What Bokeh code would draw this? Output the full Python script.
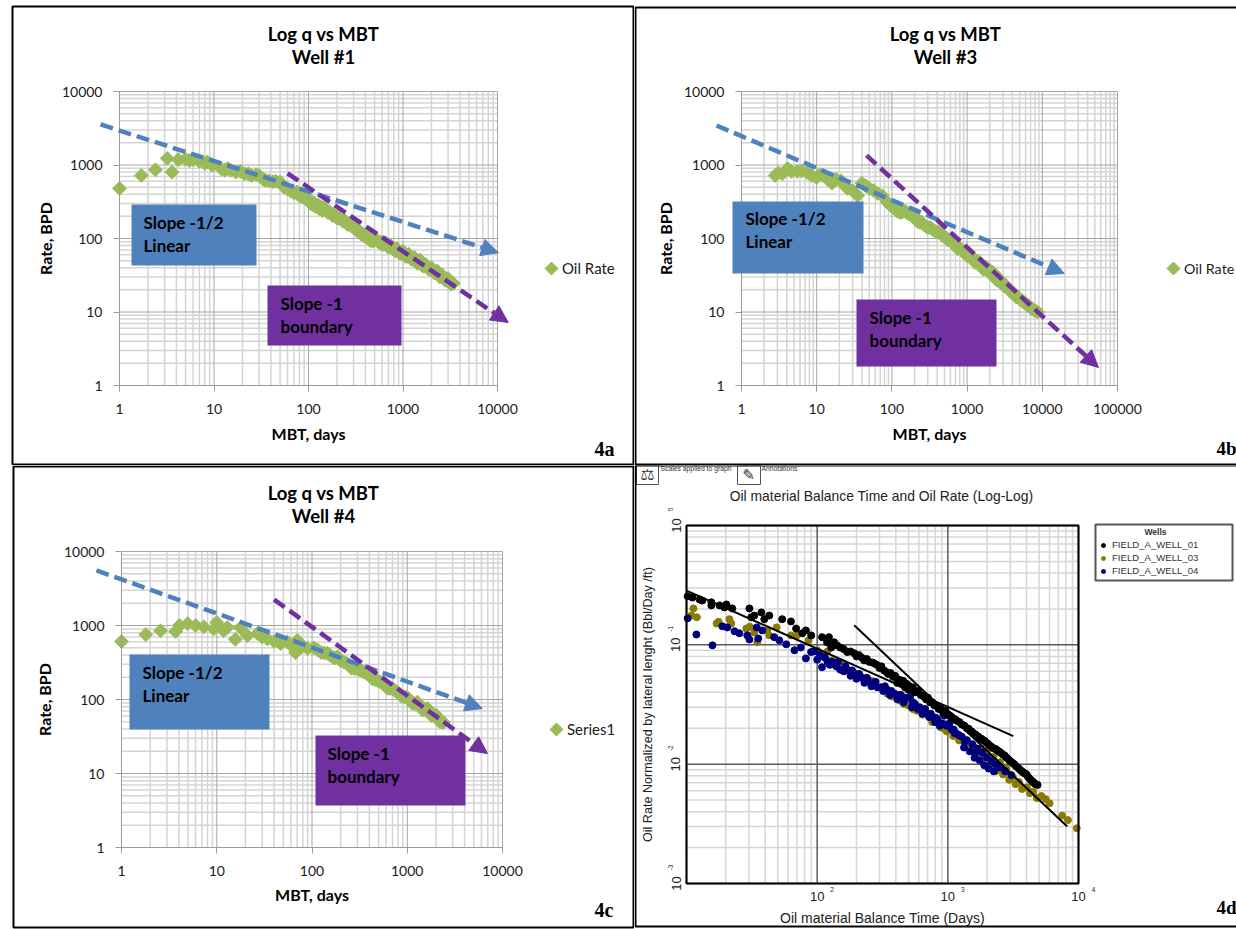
from math import pi, log10
from bokeh.embed import file_html
from bokeh.resources import INLINE
from bokeh.plotting import figure
from bokeh.layouts import column, row
from bokeh.models import (Arrow, BoxAnnotation, FixedTicker, Label, Legend, LegendItem,
                          NormalHead, NumeralTickFormatter, PolyAnnotation, Range1d)

# ---------- Well #1 (panel 4a)
a_x = [1, 1.7, 2.4, 3.2, 3.6, 4.2, 5, 5.5, 6, 7, 8, 8.5, 9.5, 12, 13, 14, 15, 17, 19, 21, 23, 25, 28, 30, 33, 35, 38, 42, 45, 50,
       55, 60, 65, 70, 75, 80, 85, 90, 95, 100, 105, 110, 115, 120, 125, 130, 135, 140, 150, 160, 170, 180, 190, 200, 215, 230,
       245, 260, 280, 300, 320, 340, 360, 390, 420, 450, 480, 520, 560, 600, 650, 700, 750, 800, 860, 920, 1000, 1070, 1150,
       1230, 1320, 1420, 1520, 1630, 1750, 1880, 2000, 2150, 2300, 2450, 2600, 2800, 3000, 3200, 3400,
       108, 128, 145, 165, 185, 208, 238, 270, 310, 350, 375, 405, 435, 465, 500, 540, 580, 625, 675, 725, 775, 830, 890, 960, 1035,
       1110, 1190, 1275, 1370, 1470, 1575, 1690, 1815, 1940, 2075, 2225, 2375, 2525, 2700, 2900, 3100, 3300]
a_y = [480, 720, 860, 1230, 800, 1180, 1200, 1150, 1180, 1120, 1050, 1100, 1000, 880, 850, 900, 850, 800, 820, 760, 760, 720, 740, 720, 640, 620, 610, 590, 600, 590,
       500, 470, 440, 420, 430, 380, 370, 360, 350, 330, 300, 290, 305, 270, 285, 255, 270, 240, 250, 225, 225, 205, 205, 190, 185, 172,
       168, 155, 150, 140, 130, 125, 115, 108, 102, 94, 92, 97, 88, 83, 88, 76, 79, 71, 73, 63, 67, 57, 61,
       52, 55, 46, 51, 42, 44, 38, 40, 34, 36, 30, 32, 27, 28.5, 24, 24.5,
       315, 280, 262, 232, 215, 192, 178, 160, 142, 123, 116, 110, 102, 98, 100, 92, 90, 84, 81, 77, 75, 68, 69, 63, 62,
       57, 57, 52, 50, 48, 45, 43, 41, 38, 37, 34, 33, 31, 29.5, 27.5, 26, 25]
a_blue_x = [0.63, 10240]
a_blue_y = [3560, 64]
a_purple_x = [60, 13000]
a_purple_y = [770, 7.2]

# ---------- Well #3 (panel 4b)
b_x = [2.8, 3.1, 3.5, 4.1, 4.6, 5.5, 6.3, 7.5, 8.5, 10, 11, 12, 14, 16, 18, 21, 23, 25.6, 30, 35, 40, 45, 50, 57, 65, 75, 87, 100, 115,
       130, 150, 170, 195, 220, 250, 300, 340, 390, 440, 500, 560, 660, 750, 850, 1000, 1130, 1280, 1450, 1650, 1850, 2050, 2250,
       2500, 2800, 3100, 3400, 3750, 4100, 4500, 5000, 5650, 6300, 7000, 7800, 8700,
       108, 122, 140, 160, 182, 208, 235, 270, 320, 365, 415, 470, 530, 610, 700, 800, 925, 1060, 1200, 1360, 1550, 1750, 1950, 2150,
       2370, 2650, 2950, 3250, 3570, 3920, 4300, 4750, 5300, 5950, 6650, 7400, 8200]
b_y = [720, 780, 760, 895, 820, 815, 830, 790, 720, 675, 740, 720, 640, 565, 640, 610, 540, 480, 450, 385, 565, 520, 480, 450, 410, 380, 310, 270, 240,
       225, 235, 215, 205, 170, 165, 140, 135, 122, 118, 105, 95, 86, 72, 70, 58, 56, 47, 47, 38, 39, 33, 34,
       27, 27, 22.5, 22, 19, 18, 16, 15, 13.5, 12.5, 11.5, 10.5, 10,
       262, 235, 232, 222, 208, 188, 165, 152, 142, 128, 122, 110, 102, 92, 82, 74, 66, 60, 54, 50, 45, 41, 38, 35,
       31, 28, 25, 23, 20.5, 19, 17.5, 16, 14.5, 13.2, 12.2, 11, 10.3]
b_blue_x = [0.465, 19600]
b_blue_y = [3450, 33.4]
b_purple_x = [46, 55800]
b_purple_y = [1350, 1.76]

# ---------- Well #4 (panel 4c)
c_x = [1, 1.8, 2.57, 3.7, 4.06, 4.95, 6, 7.3, 9.3, 10, 11.8, 12.9, 15.7, 17.7, 21, 26.8, 30, 34, 40, 46.7, 55, 62, 67, 70, 80, 90,
       105, 125, 145, 168, 185, 200, 230, 260, 300, 340, 380, 430, 490, 560, 620, 700, 790, 880, 1000, 1130, 1280, 1450, 1630,
       1800, 2000, 2200, 2400,
       115, 135, 155, 175, 215, 245, 280, 320, 360, 405, 460, 525, 590, 660, 745, 835, 940, 1060, 1200, 1360, 1540, 1710, 1900, 2100, 2300]
c_y = [610, 755, 850, 830, 1000, 1060, 1000, 960, 900, 1100, 850, 940, 650, 930, 730, 780, 700, 660, 610, 570, 600, 520, 430, 630, 530, 490,
       500, 430, 420, 370, 380, 335, 310, 265, 260, 240, 225, 190, 180, 165, 142, 140, 125, 110, 107, 88, 92, 72, 76,
       60, 62, 50, 49,
       465, 425, 395, 365, 320, 290, 262, 250, 232, 208, 185, 172, 152, 141, 132, 118, 108, 98, 88, 82, 74, 68, 60, 56, 50]
c_blue_x = [0.546, 6150]
c_blue_y = [5550, 75.5]
c_purple_x = [40, 6960]
c_purple_y = [2240, 18.6]

# ---------- Field comparison (panel 4d)
d1_x = [10.2, 11.1, 12.6, 13.2, 15.5, 15.5, 17.9, 20.2, 19.5, 22.4, 30.3, 31.3, 37.4, 33, 43, 39.4, 54, 63, 69, 82, 77, 90, 109, 123, 119,
        135, 142, 128, 170, 192, 209, 229, 250, 273, 300, 325, 350, 380, 410, 440, 470, 500, 520, 560, 620, 680, 730, 790, 850, 920,
        1030, 1100, 1180, 1280, 1400, 1490, 1570, 1670, 1760, 1860, 1960, 2100, 2250, 2400, 2510, 2650, 2800, 2950, 3140, 3300, 3500,
        3700, 3850, 4030, 4200, 4400, 4600, 4860,
        150, 160, 180, 200, 220, 240, 265, 285, 310, 340, 365, 395, 425, 455, 485, 510, 540, 590, 650, 705, 760, 820, 885, 960, 990,
        1065, 1140, 1230, 1340, 1445, 1530, 1620, 1715, 1810, 1910, 2030, 2175, 2325, 2455, 2580, 2725, 2875, 3045, 3220, 3400, 3600,
        3775, 3940, 4115, 4300, 4500, 4730]
d1_y = [.255, .249, .240, .235, .227, .214, .214, .218, .206, .202, .202, .170, .187, .176, .176, .164, .164, .157, .137, .132, .125, .120, .116, .116, .105,
        .105, .099, .095, .087, .085, .082, .074, .072, .070, .064, .061, .057, .054, .048, .047, .044, .042, .042, .040, .038, .035, .033, .031, .029, .027,
        .0257, .024, .023, .0215, .020, .019, .018, .0172, .0165, .0159, .0152, .0143, .0135, .013, .0126, .012, .0114, .0108, .0102, .0097, .0092,
        .0087, .0084, .0081, .0076, .0072, .0069, .0067,
        .095, .092, .088, .080, .078, .076, .071, .068, .066, .059, .058, .055, .051, .050, .047, .045, .044, .041, .037, .036, .033, .031, .029, .028, .0265,
        .025, .0238, .0225, .021, .0198, .0187, .0178, .0170, .0163, .0157, .0148, .0139, .0134, .0128, .0123, .0118, .0111, .0105, .0100, .0094, .0089,
        .0085, .0083, .0078, .0074, .0071, .0068]
d3_x = [11.3, 10.9, 12, 17, 17.6, 21.3, 22, 28.7, 30.5, 33, 34.8, 41.5, 43, 49, 63, 70, 86, 100, 120, 152, 155, 180, 220, 260, 309, 344, 390, 430, 500, 580,
        700, 820, 920, 1030, 1150, 1280, 1420, 1570, 1770, 1990, 2240, 2510, 2800, 3140, 3500, 4030, 4500, 5200, 5600, 6000, 7500, 8300, 9700,
        130, 170, 200, 240, 280, 330, 370, 460, 540, 640, 760, 870, 980, 1100, 1220, 1350, 1500, 1650, 1860, 2100, 2370, 2650, 2950, 3300, 3700, 4250, 4800]
d3_y = [.202, .176, .170, .151, .156, .164, .151, .137, .142, .127, .105, .132, .120, .140, .120, .120, .109, .090, .088, .071, .061, .060, .053, .050, .044, .039, .038, .034, .031, .028,
        .026, .0235, .020, .0195, .018, .0165, .015, .0142, .0135, .013, .0115, .0104, .0092, .0078, .0071, .0064, .0059, .0054, .0051, .0047, .0037, .0034, .0029,
        .074, .062, .057, .050, .046, .041, .037, .032, .029, .026, .0225, .0205, .0188, .0172, .0158, .0145, .0130, .0122, .0110, .0098, .0088, .0082, .0074, .0068, .0062, .0057, .0052]
d4_x = [10.2, 11.9, 15.8, 18.8, 20.5, 23.3, 25.4, 29.2, 30.3, 34.5, 35.4, 38, 46.9, 51.3, 58, 67, 75, 82, 89.9, 100, 109, 113, 125, 135, 150, 170, 190, 220, 245,
        273, 305, 344, 390, 438, 470, 513, 560, 610, 650, 695, 760, 830, 900, 980, 1070, 1170, 1280, 1400, 1540, 1680, 1830, 1990, 2150, 2320, 2510, 2750, 3060,
        95, 105, 115, 120, 130, 140, 145, 160, 165, 180, 185, 200, 210, 230, 240, 260, 280, 290, 320, 330, 360, 370, 410, 420, 460, 490, 530, 540, 590, 640, 670,
        720, 740, 800, 810, 870, 940, 960, 1030, 1110, 1130, 1220, 1330, 1350, 1470, 1600, 1620, 1750, 1900, 2050, 2250]
d4_y = [.167, .122, .099, .143, .140, .130, .125, .120, .111, .140, .113, .132, .116, .109, .101, .090, .095, .077, .087, .075, .065, .079, .068, .070, .062, .061, .058, .053, .050,
        .048, .044, .042, .039, .038, .036, .0364, .032, .030, .028, .0267, .025, .024, .022, .021, .0195, .018, .017, .0159, .0147, .0135, .0125, .0114, .0106, .010, .0094, .0087, .0081,
        .088, .082, .078, .072, .072, .066, .072, .060, .066, .055, .061, .052, .057, .048, .053, .045, .049, .044, .041, .045, .038, .041, .035, .038, .033, .036, .030, .033, .029, .0265, .029,
        .0248, .0265, .0225, .0245, .021, .0255, .0215, .022, .0195, .0182, .0175, .0138, .0155, .0128, .0113, .0125, .0108, .0098, .0092, .0087]
d_line1_x = [10, 3170]
d_line1_y = [.285, .0172]
d_line2_x = [192, 8200]
d_line2_y = [.146, .0030]
d_series = ["FIELD_A_WELL_01", "FIELD_A_WELL_03", "FIELD_A_WELL_04"]

# ---------- styles / tick labels
GREEN, BLUE, PURPLE = "#9BBB59", "#4F81BD", "#7030A0"
OLIVE, NAVY = "#8B7A00", "#00007F"
UI = "Lato"
X_DECADES_3 = [1, 10, 100, 1000, 10000]
X_DECADES_4 = [1, 10, 100, 1000, 10000, 100000]
Y_DECADES = [1, 10, 100, 1000, 10000]
D_X_DECADES = [10, 100, 1000, 10000]
D_Y_DECADES = [0.001, 0.01, 0.1, 1]
D_X_EXP = ["2", "3", "4"]
D_Y_EXP = ["-3", "-2", "-1", "0"]


def minors(decades):
    return [d * k for d in decades[:-1] for k in range(2, 10)]


class Panel:
    """A figure whose frame fills its whole canvas: the plot area sits at fl..fr, ft..fb in page pixels,
    so that arrows and text boxes may run past the axes without being clipped."""
    def __init__(self, ox, oy, w, h, fl, fr, ft, fb, xd, yd):
        self.ox, self.oy, self.xd, self.yd = ox, oy, xd, yd
        xpd = (fr - fl) / (log10(xd[-1]) - log10(xd[0]))
        ypd = (fb - ft) / (log10(yd[-1]) - log10(yd[0]))
        xr = (10 ** (log10(xd[0]) + (ox - fl) / xpd), 10 ** (log10(xd[0]) + (ox + w - fl) / xpd))
        yr = (10 ** (log10(yd[0]) + (fb - oy - h) / ypd), 10 ** (log10(yd[0]) + (fb - oy) / ypd))
        p = figure(width=w, height=h, x_axis_type="log", y_axis_type="log",
                   x_range=Range1d(*xr), y_range=Range1d(*yr), output_backend="svg",
                   toolbar_location=None, min_border=0)
        p.outline_line_color = None
        p.background_fill_color = "white"
        p.border_fill_color = "white"
        p.xgrid.visible = False
        p.ygrid.visible = False
        for ax, loc, bnd in ((p.xaxis[0], yd[0], (xd[0], xd[-1])), (p.yaxis[0], xd[0], (yd[0], yd[-1]))):
            ax.fixed_location = loc
            ax.bounds = bnd
        self.p = p

    def grid(self, xt, yt, color, width):
        ylo, yhi = self.yd[0], self.yd[-1]
        xlo, xhi = self.xd[0], self.xd[-1]
        self.p.segment(xt, [ylo] * len(xt), xt, [yhi] * len(xt), line_color=color, line_width=width)
        self.p.segment([xlo] * len(yt), yt, [xhi] * len(yt), yt, line_color=color, line_width=width)

    def box(self, l, t, r, b, **kw):
        self.p.add_layout(BoxAnnotation(left=l - self.ox, right=r - self.ox, top=t - self.oy, bottom=b - self.oy,
                                        left_units="canvas", right_units="canvas",
                                        top_units="canvas", bottom_units="canvas", **kw))

    def text(self, x, y, s, size, font=UI, style="normal", align="left", color="black", angle=0):
        self.p.add_layout(Label(x=x - self.ox, y=y - self.oy, x_units="canvas", y_units="canvas",
                                text=s, text_font=font, text_font_size=f"{size}px", text_font_style=style,
                                text_align=align, text_baseline="middle", text_color=color, angle=angle))

    def key(self, x, y, r, color):
        """Legend key: Excel's diamond, which is as wide as it is tall."""
        x, y = x - self.ox, y - self.oy
        self.p.add_layout(PolyAnnotation(xs=[x - r, x, x + r, x], ys=[y, y - r, y, y + r],
                                         xs_units="canvas", ys_units="canvas",
                                         fill_color=color, fill_alpha=1, line_color=color, line_alpha=1))


def arrow(p, xs, ys, color):
    p.add_layout(Arrow(end=NormalHead(size=17, fill_color=color, line_color=color),
                       x_start=xs[0], y_start=ys[0], x_end=xs[1], y_end=ys[1],
                       line_color=color, line_width=4.5, line_dash="13 6"))


def excel_panel(ox, oy, w, h, fl, fr, ft, fb, xd, xs, ys, blue, purple, title, corner, boxes, legend_name,
                legend_xy, key_xy, label_standoffs, legend_size=15):
    pn = Panel(ox, oy, w, h, fl, fr, ft, fb, xd, Y_DECADES)
    p = pn.p
    pn.grid(minors(xd), minors(Y_DECADES), "#D4D4D4", 1.5)
    pn.grid(xd, Y_DECADES, "#A6A6A6", 1)
    p.xaxis.ticker = FixedTicker(ticks=xd)
    p.yaxis.ticker = FixedTicker(ticks=Y_DECADES)
    for ax in (p.xaxis[0], p.yaxis[0]):
        ax.formatter = NumeralTickFormatter(format="0")
        ax.axis_line_color = "#9A9A9A"
        ax.major_tick_line_color = "#9A9A9A"
        ax.major_tick_in = 0
        ax.major_tick_out = 6
        ax.minor_tick_line_color = None
        ax.major_label_text_font = UI
        ax.major_label_text_font_size = "14px"
        ax.major_label_text_color = "#1a1a1a"
        ax.axis_label_text_font = UI
        ax.axis_label_text_font_size = "16px"
        ax.axis_label_text_font_style = "bold"
        ax.axis_label_text_color = "black"
    p.xaxis.axis_label = "MBT, days"
    p.yaxis.axis_label = "Rate, BPD"
    p.xaxis.major_label_standoff = 12
    p.yaxis.major_label_standoff = 11
    p.xaxis.axis_label_standoff = label_standoffs[0]
    p.yaxis.axis_label_standoff = label_standoffs[1]

    r = p.scatter(xs, ys, marker="square", angle=pi / 4, size=9.8, fill_color=GREEN, line_color=GREEN)
    arrow(p, *blue, BLUE)
    arrow(p, *purple, PURPLE)
    for (l, t, rr, b, color, tx, ty1, ty2, s1, s2) in boxes:
        pn.box(l, t, rr, b, fill_color=color, fill_alpha=1, line_alpha=0)
        pn.text(tx, ty1, s1, 17, style="bold")
        pn.text(tx, ty2, s2, 17, style="bold")
    pn.text(title[0], title[1], title[2], 18.5, style="bold", align="center")
    pn.text(title[0], title[1] + 23, title[3], 18.5, style="bold", align="center")
    pn.text(corner[0], corner[1], corner[2], corner[3], font="Liberation Serif", style="bold")
    p.add_layout(Legend(items=[LegendItem(label=legend_name, renderers=[r])], location=legend_xy,
                        background_fill_alpha=0, border_line_alpha=0, padding=0, margin=0,
                        glyph_width=14, glyph_height=14, label_standoff=4,
                        label_text_font=UI, label_text_font_size=f"{legend_size}px", label_text_color="#1a1a1a"))
    pn.key(key_xy[0], key_xy[1], 6.5, GREEN)
    return pn


A = excel_panel(0, 0, 634, 465, 119, 497, 91, 385, X_DECADES_3, a_x, a_y, (a_blue_x, a_blue_y), (a_purple_x, a_purple_y),
                (323, 33, "Log q vs MBT", "Well #1"), (594, 448, "4a", 20),
                [(131, 204, 256, 265, BLUE, 143, 222, 245, "Slope -1/2", "Linear"),
                 (267, 285, 401, 345, PURPLE, 280, 303, 326, "Slope -1", "boundary")],
                "Oil Rate", (544, 188), (551, 268), (7, 4))
A.box(12, 6, 633, 464, fill_alpha=0, line_color="black", line_alpha=1, line_width=2)

B = excel_panel(634, 0, 602, 465, 741, 1117, 91, 385, X_DECADES_4, b_x, b_y, (b_blue_x, b_blue_y), (b_purple_x, b_purple_y),
                (945, 33, "Log q vs MBT", "Well #3"), (1216, 448, "4b", 19),
                [(732, 201, 863, 273, BLUE, 745, 218, 241, "Slope -1/2", "Linear"),
                 (856, 299, 996, 366, PURPLE, 869, 317, 340, "Slope -1", "boundary")],
                "Oil Rate", (532, 188), (1173, 268), (7, 6), legend_size=14.3)
B.box(635, 7, 1240, 464, fill_alpha=0, line_color="black", line_alpha=1, line_width=2)

C = excel_panel(0, 465, 634, 464, 121, 502, 551, 847, X_DECADES_3, c_x, c_y, (c_blue_x, c_blue_y), (c_purple_x, c_purple_y),
                (323, 492, "Log q vs MBT", "Well #4"), (594, 909, "4c", 20),
                [(129, 654, 269, 729, BLUE, 142, 672, 695, "Slope -1/2", "Linear"),
                 (315, 735, 465, 805, PURPLE, 327, 753, 776, "Slope -1", "boundary")],
                "Series1", (549, 191), (556, 729), (6, 7))
C.box(13, 466, 633, 927, fill_alpha=0, line_color="black", line_alpha=1, line_width=2)

# ---------- panel 4d
D = Panel(634, 465, 602, 464, 686, 1078, 525, 883, D_X_DECADES, D_Y_DECADES)
q = D.p
D.grid(minors(D_X_DECADES), minors(D_Y_DECADES), "#D6D6D6", 1.5)
D.grid(D_X_DECADES, D_Y_DECADES, "#5A5A5A", 1.5)
q.xaxis.ticker = FixedTicker(ticks=D_X_DECADES[1:])
q.yaxis.ticker = FixedTicker(ticks=D_Y_DECADES)
for ax in (q.xaxis[0], q.yaxis[0]):
    ax.axis_line_color = None
    ax.major_tick_line_color = None
    ax.minor_tick_line_color = None
    ax.major_label_text_font = "Liberation Sans"
    ax.major_label_text_font_size = "13px"
    ax.major_label_text_color = "#222222"
    ax.axis_label_text_font = "Liberation Sans"
    ax.axis_label_text_font_style = "normal"
    ax.axis_label_text_color = "#222222"
q.xaxis.axis_label_text_font_size = "14px"
q.yaxis.axis_label_text_font_size = "12.6px"
q.xaxis.major_label_standoff = 2
q.yaxis.major_label_standoff = 0
q.xaxis.major_label_overrides = {t: "10" for t in D_X_DECADES}
q.yaxis.major_label_overrides = {t: "10" for t in D_Y_DECADES}
q.yaxis.major_label_orientation = "vertical"
q.xaxis.axis_label = "Oil material Balance Time (Days)"
q.yaxis.axis_label = "Oil Rate Normalized by lateral lenght (Bbl/Day /ft)"
q.xaxis.axis_label_standoff = 6
q.yaxis.axis_label_standoff = 14

r3 = q.scatter(d3_x, d3_y, marker="circle", size=7, fill_color=OLIVE, line_color=OLIVE)
r4 = q.scatter(d4_x, d4_y, marker="circle", size=7, fill_color=NAVY, line_color=NAVY)
r1 = q.scatter(d1_x, d1_y, marker="circle", size=7, fill_color="black", line_color="black")
q.line(d_line1_x, d_line1_y, line_color="black", line_width=2)
q.line(d_line2_x, d_line2_y, line_color="black", line_width=2)
q.add_layout(BoxAnnotation(left=D_X_DECADES[0], right=D_X_DECADES[-1], bottom=D_Y_DECADES[0], top=D_Y_DECADES[-1],
                           fill_alpha=0, line_color="black", line_alpha=1, line_width=2))

for t, e in zip(D_X_DECADES[1:], D_X_EXP):
    q.add_layout(Label(x=t, y=D_Y_DECADES[0], x_units="data", y_units="data", x_offset=15, y_offset=-6, text=e,
                       text_font="Liberation Sans", text_font_size="6.5px", text_align="center",
                       text_baseline="middle", text_color="#222222"))
for t, e in zip(D_Y_DECADES, D_Y_EXP):
    q.add_layout(Label(x=D_X_DECADES[0], y=t, x_units="data", y_units="data", x_offset=-16, y_offset=16, text=e, angle=pi / 2,
                       text_font="Liberation Sans", text_font_size="6.5px", text_align="center",
                       text_baseline="middle", text_color="#222222"))

D.text(881, 495, "Oil material Balance Time and Oil Rate (Log-Log)", 13.9, font="Liberation Sans", align="center", color="#222222")
D.text(1216, 907, "4d", 19, font="Liberation Serif", style="bold")
# top-left toolbar strip
D.box(636, 465, 658, 484, fill_alpha=0, line_color="#555555", line_alpha=1, line_width=1)
D.box(737, 465, 760, 484, fill_alpha=0, line_color="#555555", line_alpha=1, line_width=1)
D.text(647, 474, "\u2696", 16, font="DejaVu Sans", align="center", color="#333333")
D.text(748, 474, "\u270E", 15, font="DejaVu Sans", align="center", color="#333333")
D.text(660, 468, "Scales applied to graph", 6.8, font="Liberation Sans", color="#333333")
D.text(761, 468, "Annotations", 6.8, font="Liberation Sans", color="#333333")
# wells legend: frame and title sit around the library's legend
D.box(1095, 524, 1232, 580, fill_color="white", fill_alpha=1, line_color="#555555", line_alpha=1, line_width=2)
D.text(1155, 531, "Wells", 8.5, font="Liberation Sans", style="bold", align="center", color="#333333")
q.add_layout(Legend(items=[LegendItem(label=d_series[0], renderers=[r1]),
                           LegendItem(label=d_series[1], renderers=[r3]),
                           LegendItem(label=d_series[2], renderers=[r4])],
                    location=(464, 353), border_line_alpha=0, background_fill_alpha=0, padding=0, margin=0, spacing=2,
                    glyph_width=10, glyph_height=10, label_standoff=4, label_height=10,
                    label_text_font="Liberation Sans", label_text_font_size="9.6px", label_text_color="#333333"))
D.box(635, 465, 1240, 926, fill_alpha=0, line_color="black", line_alpha=1, line_width=2)

page = column(row(A.p, B.p, spacing=0), row(C.p, D.p, spacing=0), spacing=0)
open("out.html", "w").write(file_html(page, INLINE))
